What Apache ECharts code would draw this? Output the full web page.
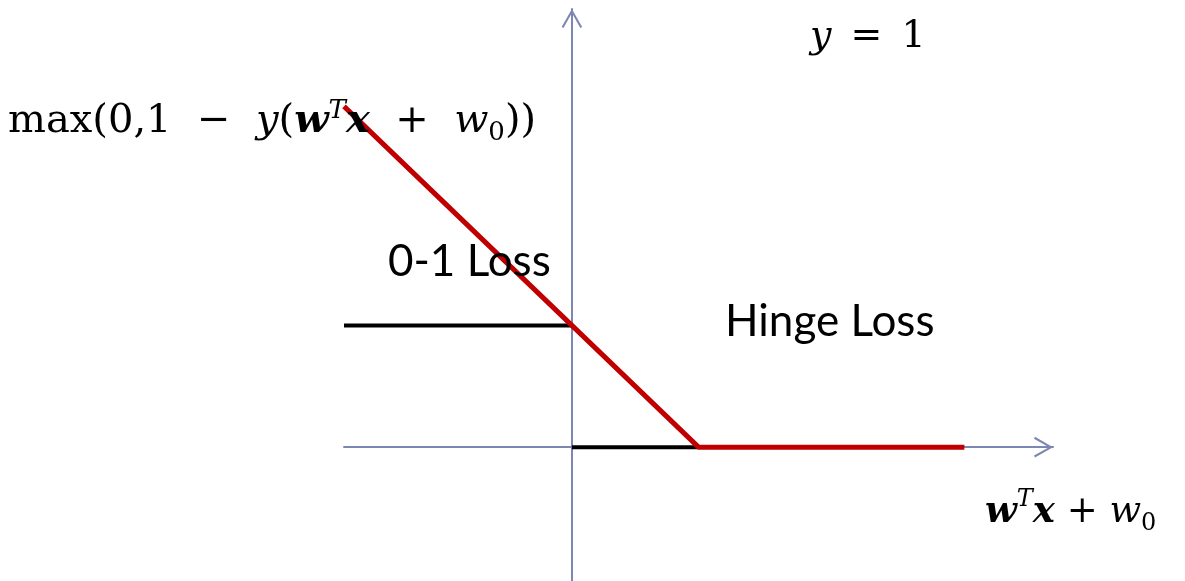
<!DOCTYPE html>
<html>
<head>
<meta charset="utf-8">
<title>Hinge loss vs 0-1 loss</title>
<script src="https://cdn.jsdelivr.net/npm/echarts@6/dist/echarts.min.js"></script>
<style>
  html, body { margin: 0; padding: 0; background: #fff; }
  #chart { width: 1185px; height: 581px; }
</style>
</head>
<body>
<div id="chart"></div>
<script>
  // x = margin w^T x + w0, y = loss (label y = 1)
  const hingeX = [-1.8, 1, 3.1]
  const hingeY = [2.8, 0, 0]
  const zeroOneLeftX = [-1.8, 0]
  const zeroOneLeftY = [1, 1]
  const zeroOneRightX = [0, 1]
  const zeroOneRightY = [0, 0]
  const xRange = [-1.8, 3.8]
  const yRange = [-1.1, 3.6]

  const pairs = (xs, ys) => xs.map((x, i) => [x, ys[i]])

  const axisColor = '#7c87b2'
  // open chevron arrow head, tip on top like the built-in 'arrow'
  const chevron = 'path://M10,0 L20,17.5 L18.2,18.5 L10,4 L1.8,18.5 L0,17.5 Z'
  const mathFont = '"DejaVu Serif", "Liberation Serif", serif'
  const sansFont = 'Lato, "Open Sans", sans-serif'

  function mathRich(size) {
    const base = {fontFamily: mathFont, fontSize: size, lineHeight: 48, color: '#000'}
    const small = Math.round(size * 0.64)
    return {
      n: base,
      eq: Object.assign({}, base, {padding: [0, 7, 0, 7]}),
      i: Object.assign({}, base, {fontStyle: 'italic'}),
      b: Object.assign({}, base, {fontStyle: 'italic', fontWeight: 'bold'}),
      sup: {fontFamily: mathFont, fontSize: small, lineHeight: small + 2, fontStyle: 'italic', verticalAlign: 'top', color: '#000'},
      sub: {fontFamily: mathFont, fontSize: small, lineHeight: small, verticalAlign: 'bottom', color: '#000'}
    }
  }

  const axisBase = {
    type: 'value',
    axisTick: {show: false},
    axisLabel: {show: false},
    splitLine: {show: false},
    axisLine: {
      onZero: true,
      symbol: ['none', chevron],
      symbolSize: [22, 19],
      symbolOffset: [0, -9.5],
      lineStyle: {color: axisColor, width: 2}
    }
  }

  const chart = echarts.init(document.getElementById('chart'))
  const option = {
    animation: false,
    backgroundColor: '#fff',
    grid: {left: 344, right: 132, top: 9, bottom: 0},
    xAxis: Object.assign({}, axisBase, {min: xRange[0], max: xRange[1]}),
    yAxis: Object.assign({}, axisBase, {min: yRange[0], max: yRange[1]}),
    series: [
      {
        name: '0-1 Loss',
        type: 'line',
        showSymbol: false,
        silent: true,
        z: 2,
        lineStyle: {color: '#000', width: 4},
        data: pairs(zeroOneLeftX, zeroOneLeftY)
      },
      {
        name: '0-1 Loss',
        type: 'line',
        showSymbol: false,
        silent: true,
        z: 2,
        lineStyle: {color: '#000', width: 4},
        data: pairs(zeroOneRightX, zeroOneRightY)
      },
      {
        name: 'Hinge Loss',
        type: 'line',
        showSymbol: false,
        silent: true,
        z: 3,
        lineStyle: {color: '#c00000', width: 5},
        data: pairs(hingeX, hingeY)
      }
    ],
    graphic: [
      {
        type: 'text', left: 8, top: 98, z: 10,
        style: {
          text: '{n|max(0,1  −  }{i|y}{n|(}{b|w}{sup|T}{b|x}{n|  +  }{i|w}{sub|0}{n|))}',
          rich: mathRich(40)
        }
      },
      {
        type: 'text', left: 810, top: 18, z: 10,
        style: {text: '{i|y}{n| }{eq|=}{n| 1}', rich: mathRich(38)}
      },
      {
        type: 'text', left: 985, top: 488, z: 10,
        style: {text: '{b|w}{sup|T}{b|x}{n| + }{i|w}{sub|0}', rich: mathRich(37)}
      },
      {
        type: 'text', left: 388, top: 240, z: 10,
        style: {text: '0-1 Loss', font: '44px ' + sansFont, fill: '#000'}
      },
      {
        type: 'text', left: 725, top: 300, z: 10,
        style: {text: 'Hinge Loss', font: '44px ' + sansFont, fill: '#000'}
      }
    ]
  }
  chart.setOption(option)
  window.addEventListener('resize', () => chart.resize())
</script>
</body>
</html>
